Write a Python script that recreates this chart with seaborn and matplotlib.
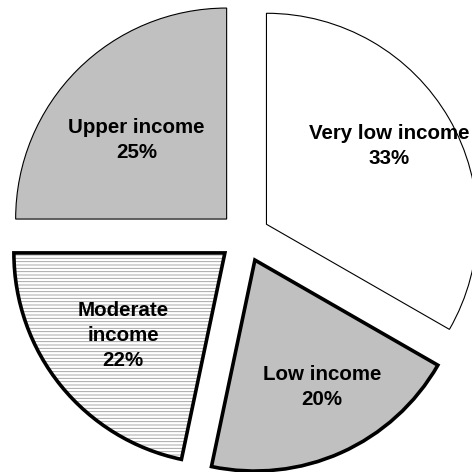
import matplotlib
matplotlib.use("Agg")
import matplotlib.pyplot as plt
import seaborn as sns
import numpy as np
from matplotlib.patches import Wedge

# --------------------------------------------------
# Data
# --------------------------------------------------
categories = ["Very low income", "Low income", "Moderate\nincome", "Upper income"]
shares = [33.3, 20.0, 21.7, 25.0]

# Styling per slice
fills = ["white", "#c0c0c0", "white", "#c0c0c0"]
edge_widths = [0.8, 2.6, 2.6, 0.8]
label_r = [0.69, 0.68, 0.62, 0.57]
label_shift = [2.5, 3.8, 0.0, 3.7]  # degrees off the slice bisector

sns.set_style("white")
plt.rcParams["font.family"] = ["Liberation Sans", "DejaVu Sans"]
plt.rcParams["text.color"] = "black"
plt.rcParams["hatch.linewidth"] = 0.6

fig = plt.figure(figsize=(4.72, 4.72), dpi=100)
ax = fig.add_axes([0, 0, 1, 1])

wedges, _ = ax.pie(
    shares,
    startangle=90,
    counterclock=False,
    explode=[0.12] * len(shares),
    colors=fills,
    wedgeprops=dict(edgecolor="black"),
)

for i, w in enumerate(wedges):
    w.set_linewidth(edge_widths[i])

# Moderate income: grey horizontal hatch, black outline drawn on top
mod = wedges[2]
mod.set_edgecolor("#9a9a9a")
mod.set_hatch("-----")
mod.set_linewidth(0)
ax.add_patch(Wedge(mod.center, mod.r, mod.theta1, mod.theta2,
                   fill=False, edgecolor="black", linewidth=edge_widths[2],
                   zorder=mod.get_zorder() + 0.1))

# Labels inside the slices
for i, w in enumerate(wedges):
    mid = np.deg2rad((w.theta1 + w.theta2) / 2 + label_shift[i])
    x = w.center[0] + label_r[i] * w.r * np.cos(mid)
    y = w.center[1] + label_r[i] * w.r * np.sin(mid)
    ax.text(x, y, f"{categories[i]}\n{shares[i]:.0f}%",
            ha="center", va="center", fontsize=14.8, fontweight="bold",
            linespacing=1.4, color="black")

ax.set_xlim(-1.159, 1.078)
ax.set_ylim(-1.114, 1.123)
ax.axis("off")

fig.savefig("out.png", dpi=100)
